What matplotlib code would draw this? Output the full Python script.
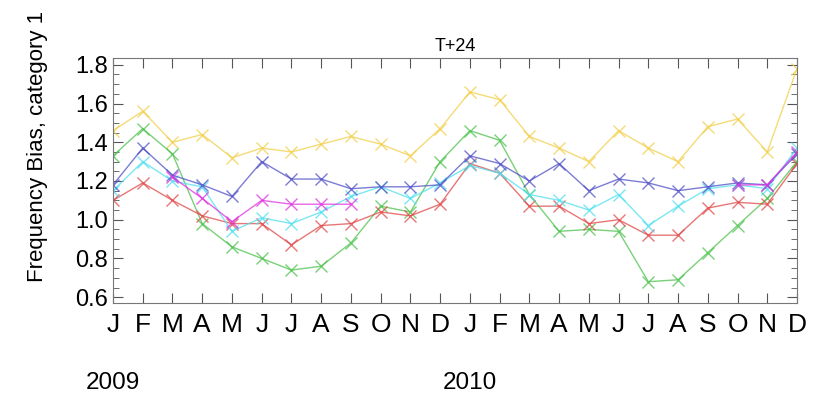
import numpy as np
import matplotlib.pyplot as plt

plt.rcParams['font.family'] = ['Liberation Sans', 'DejaVu Sans']

# months Jan 2009 .. Dec 2010
months = ['J', 'F', 'M', 'A', 'M', 'J', 'J', 'A', 'S', 'O', 'N', 'D'] * 2
years = ['2009', '2010']

nan = np.nan
yellow = [1.46, 1.56, 1.40, 1.44, 1.32, 1.37, 1.35, 1.39, 1.43, 1.39, 1.33, 1.47,
          1.66, 1.62, 1.43, 1.37, 1.30, 1.46, 1.37, 1.30, 1.48, 1.52, 1.35, 1.78]
green = [1.33, 1.47, 1.34, 0.98, 0.86, 0.80, 0.74, 0.76, 0.88, 1.07, 1.04, 1.30,
         1.46, 1.41, 1.13, 0.94, 0.95, 0.94, 0.68, 0.69, 0.83, 0.97, 1.11, 1.30]
blue = [1.18, 1.37, 1.23, 1.18, 1.12, 1.30, 1.21, 1.21, 1.16, 1.17, 1.17, 1.18,
        1.33, 1.29, 1.20, 1.29, 1.15, 1.21, 1.19, 1.15, 1.17, 1.19, 1.18, 1.34]
cyan = [1.15, 1.30, 1.20, 1.17, 0.94, 1.01, 0.98, 1.04, 1.12, 1.17, 1.11, 1.19,
        1.28, 1.24, 1.13, 1.10, 1.05, 1.13, 0.97, 1.07, 1.16, 1.18, 1.16, 1.37]
magenta = [nan, nan, 1.22, 1.11, 0.99, 1.10, 1.08, 1.08, 1.08, nan, nan, nan,
           nan, nan, nan, nan, nan, nan, nan, nan, nan, 1.18, 1.18, 1.35]
red = [1.10, 1.19, 1.10, 1.02, 0.98, 0.98, 0.87, 0.97, 0.98, 1.04, 1.02, 1.08,
       1.29, 1.24, 1.07, 1.07, 0.98, 1.00, 0.92, 0.92, 1.06, 1.09, 1.08, 1.29]

series = [(yellow, '#f2cf4a'), (green, '#4cc24c'), (red, '#e04848'),
          (cyan, '#50e0f0'), (blue, '#5050c8'), (magenta, '#e030e0')]

fig = plt.figure(figsize=(8.21, 3.97), dpi=100)
ax = fig.add_axes([113 / 821, 1 - 303 / 397, 684 / 821, 245 / 397])

x = np.arange(len(months))
for vals, col in series:
    ax.plot(x, vals, color=col, lw=1.0, alpha=0.75, marker='x', ms=9, mew=1.0)

ax.set_xlim(0, 23)
ax.set_ylim(0.57, 1.835)
ax.set_yticks(np.arange(0.6, 1.81, 0.2))
ax.set_yticks(np.arange(0.6, 1.81, 0.05), minor=True)
ax.set_yticklabels(['%.1f' % v for v in np.arange(0.6, 1.81, 0.2)], fontsize=17)
ax.set_xticks(x)
ax.set_xticklabels(months, fontsize=19)
ax.tick_params(axis='both', which='both', direction='in', top=True, right=True,
               color='#555555')
ax.tick_params(axis='both', which='major', length=7)
ax.tick_params(axis='y', which='minor', length=4)
ax.tick_params(axis='x', pad=7)
for s in ax.spines.values():
    s.set_color('#777777')

ax.set_title('T+24', fontsize=13, pad=5)
fig.text(38 / 821, 1 - 146 / 397, 'Frequency Bias, category 1', rotation=90,
         ha='center', va='center', fontsize=16)
for i, yr in enumerate(years):
    ax.text(i * 12, -0.327, yr, transform=ax.get_xaxis_transform(), ha='center',
            va='center', fontsize=17.5)

fig.savefig('out.png', dpi=100)
